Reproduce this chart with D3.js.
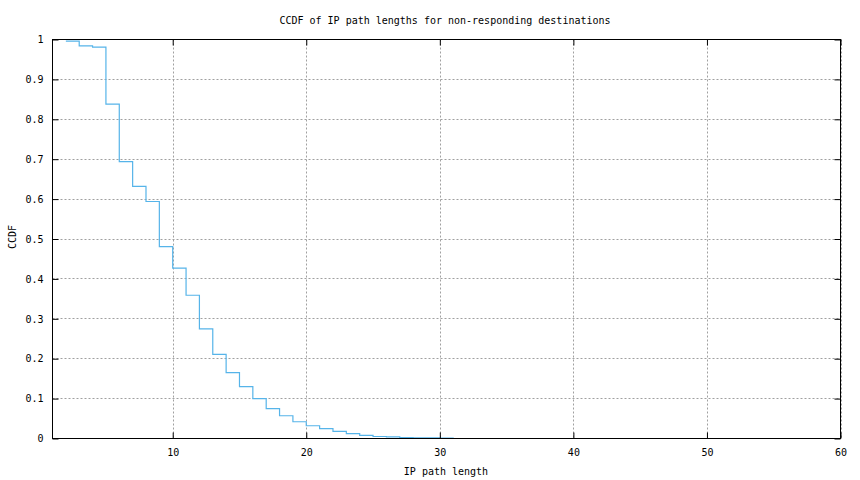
<!DOCTYPE html>
<html>
<head>
<meta charset="utf-8">
<script src="https://cdn.jsdelivr.net/npm/d3@7"></script>
<style>
  html, body { margin: 0; padding: 0; background: #fff; }
  svg { display: block; }
  text { font-family: "DejaVu Sans Mono", "Liberation Mono", monospace; font-size: 10px; fill: #000; }
</style>
</head>
<body>
<svg id="chart" width="860" height="480"></svg>
<script>
const pathLengths = [2, 3, 4, 5, 6, 7, 8, 9, 10, 11, 12, 13, 14, 15, 16, 17, 18, 19, 20, 21, 22, 23, 24, 25, 26, 27, 28, 29, 30, 31];
const ccdfValues = [0.996, 0.984, 0.981, 0.838, 0.694, 0.632, 0.594, 0.481, 0.427, 0.359, 0.275, 0.211, 0.165, 0.130, 0.100, 0.075, 0.057, 0.042, 0.032, 0.025, 0.018, 0.012, 0.008, 0.005, 0.004, 0.002, 0.0018, 0.0015, 0.001, 0.0008];
const xTicks = [10, 20, 30, 40, 50, 60];
const yTicks = [0, 0.1, 0.2, 0.3, 0.4, 0.5, 0.6, 0.7, 0.8, 0.9, 1];
const titleText = "CCDF of IP path lengths for non-responding destinations";
const xLabel = "IP path length";
const yLabel = "CCDF";

const svg = d3.select("#chart");
const L = 52.5, R = 840.5, T = 39.5, B = 438.5;
const x = d3.scaleLinear().domain([1, 60]).range([L, R]);
const y = d3.scaleLinear().domain([0, 1]).range([B, T]);

// grid
const grid = svg.append("g").attr("stroke", "#a0a0a0").attr("stroke-width", 1).attr("stroke-dasharray", "2,2");
xTicks.forEach(t => grid.append("line").attr("x1", Math.round(x(t)) + 0.5).attr("x2", Math.round(x(t)) + 0.5).attr("y1", T).attr("y2", B));
yTicks.forEach(t => grid.append("line").attr("x1", L).attr("x2", R).attr("y1", Math.round(y(t) - 0.5) + 0.5).attr("y2", Math.round(y(t) - 0.5) + 0.5));

// data line
const data = pathLengths.map((d, i) => [d, ccdfValues[i]]);
const line = d3.line().x(d => x(d[0])).y(d => y(d[1])).curve(d3.curveStepAfter);
svg.append("path").datum(data).attr("d", line).attr("fill", "none").attr("stroke", "#56b4e9").attr("stroke-width", 1.2);

// axes with inward ticks
const tl = 6;
const bottomAxis = d3.axisBottom(x).tickValues(xTicks).tickSize(-tl).tickPadding(tl + 4).tickFormat(d3.format("d"));
const topAxis = d3.axisTop(x).tickValues(xTicks).tickSize(-tl).tickFormat("");
const leftAxis = d3.axisLeft(y).tickValues(yTicks).tickSize(-tl).tickPadding(tl + 3).tickFormat(d => d === 0 ? "0" : d === 1 ? "1" : d3.format(".1f")(d));
const rightAxis = d3.axisRight(y).tickValues(yTicks).tickSize(-tl).tickFormat("");

function style(g) {
  g.select(".domain").remove();
  g.selectAll(".tick line").attr("stroke", "#000");
  g.selectAll("text").attr("font-family", null).attr("font-size", null).attr("fill", "#000");
}
svg.append("g").attr("transform", `translate(0,${B})`).call(bottomAxis).call(style);
svg.append("g").attr("transform", `translate(0,${T})`).call(topAxis).call(style);
svg.append("g").attr("transform", `translate(${L},0)`).call(leftAxis).call(style);
svg.append("g").attr("transform", `translate(${R},0)`).call(rightAxis).call(style);

// border
svg.append("rect").attr("x", L).attr("y", T).attr("width", R - L).attr("height", B - T)
  .attr("fill", "none").attr("stroke", "#000").attr("stroke-width", 1);

// texts
svg.append("text").attr("x", 445).attr("y", 24).attr("text-anchor", "middle").text(titleText);
svg.append("text").attr("x", 446).attr("y", 475).attr("text-anchor", "middle").text(xLabel);
svg.append("text").attr("transform", "translate(16,237) rotate(-90)").attr("text-anchor", "middle").text(yLabel);
</script>
</body>
</html>
